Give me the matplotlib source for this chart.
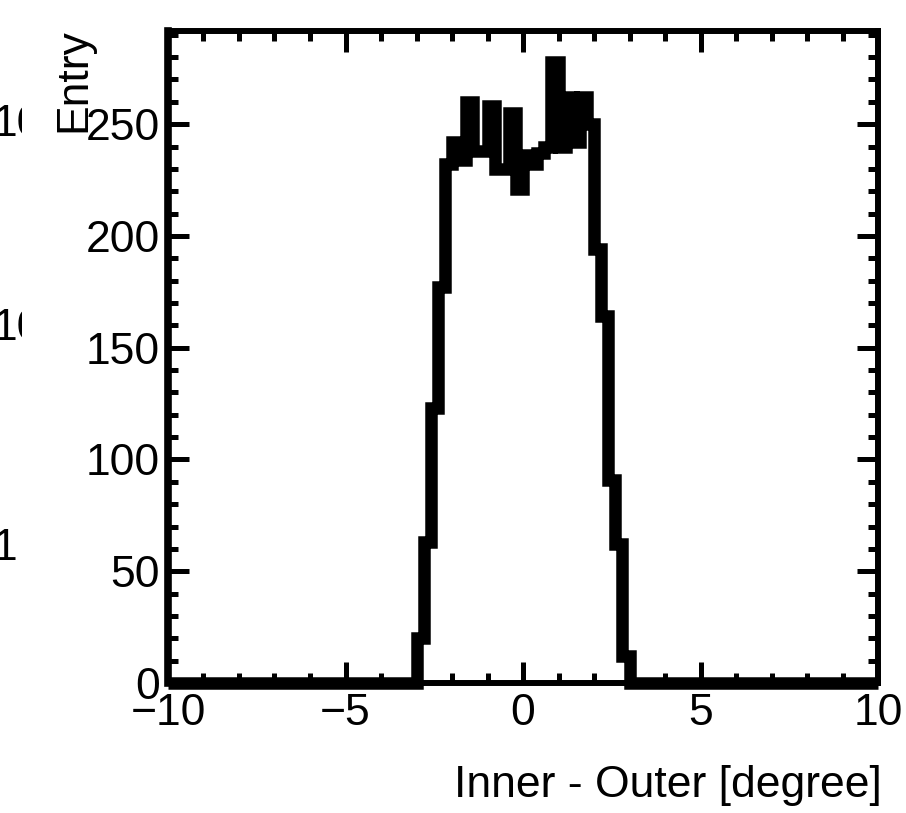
import numpy as np
import matplotlib.pyplot as plt
from matplotlib.patches import Rectangle
from matplotlib.ticker import MultipleLocator

plt.rcParams['font.family'] = ['Liberation Sans', 'DejaVu Sans']

# histogram: 100 bins of 0.2 degree from -10 to 10, filled only in [-3, 3]
x_min, x_max, n_bins = -10, 10, 100
fill_start = -3.0
counts = [20, 63, 123, 177, 232, 242, 234, 260, 238, 238,
          258, 230, 230, 255, 221, 236, 232, 237, 240, 278,
          240, 262, 242, 262, 250, 194, 164, 91, 62, 12]

edges = np.linspace(x_min, x_max, n_bins + 1)
values = np.zeros(n_bins)
i0 = int(round((fill_start - x_min) / (edges[1] - edges[0])))
values[i0:i0 + len(counts)] = counts

W, H = 906, 813
fig = plt.figure(figsize=(W / 100, H / 100), dpi=100)
ax = fig.add_axes([168 / W, 1 - 683 / H, (878 - 168) / W, (683 - 30.5) / H])

ax.stairs(values, edges, color='black', linewidth=9, clip_on=False)
for ln in ax.patches:
    ln.set_joinstyle('miter')
    ln.set_capstyle('butt')

ax.set_xlim(x_min, x_max)
ax.set_ylim(0, max(counts) * 1.05)

ax.xaxis.set_major_locator(MultipleLocator(5))
ax.xaxis.set_minor_locator(MultipleLocator(1))
ax.yaxis.set_major_locator(MultipleLocator(50))
ax.yaxis.set_minor_locator(MultipleLocator(10))
ax.tick_params(which='both', direction='in', top=True, right=True, width=3.6,
               labelsize=32)
ax.tick_params(which='major', length=15)
ax.tick_params(which='minor', length=7)
ax.tick_params(axis='y', pad=6)
ax.tick_params(axis='x', pad=7)

for side in ['top', 'right', 'bottom']:
    ax.spines[side].set_linewidth(4.3)
ax.spines['left'].set_linewidth(5.5)

fig.text(882 / W, 1 - 797 / H, 'Inner - Outer [degree]', ha='right',
         va='baseline', fontsize=32)
fig.text(74 / W, 1 - 28 / H, 'Entry', rotation=90, ha='center', va='top',
         fontsize=32)

# cut-off labels of the neighbouring pad on the left edge
clip = Rectangle((0, 0), 22 / W, 1, transform=fig.transFigure)
for lab, yy in [('10', 124), ('10', 328), ('1', 548)]:
    t = fig.text(-7 / W, 1 - yy / H, lab, ha='left', va='center', fontsize=32)
    t.set_clip_path(clip)

fig.savefig('out.png', dpi=100)
